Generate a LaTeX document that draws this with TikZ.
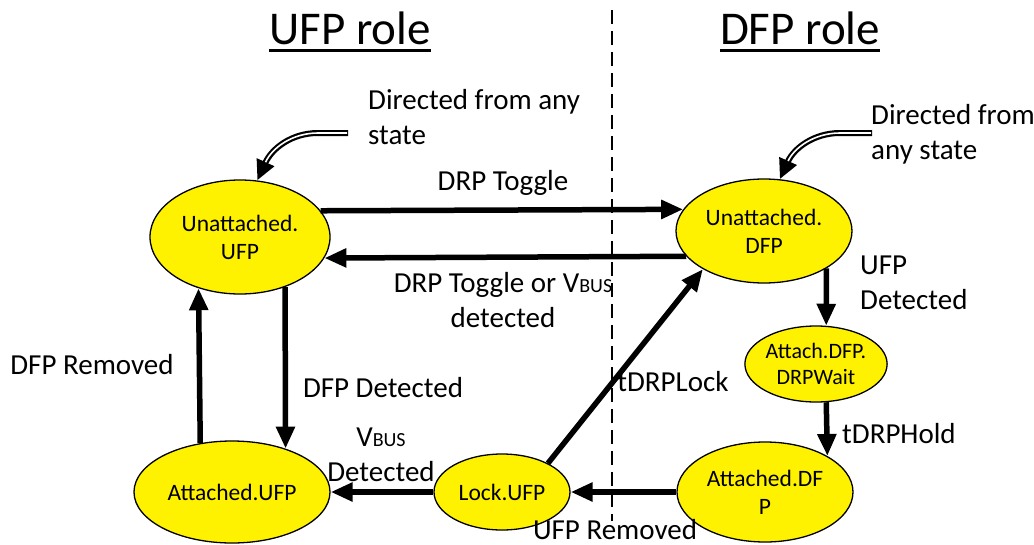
\documentclass[tikz,border=0pt]{standalone}
\usepackage{fontspec}
\setmainfont{Carlito}
\usetikzlibrary{shapes.geometric,arrows.meta}
\begin{document}
\begin{tikzpicture}[x=1pt,y=-1pt,
  st/.style={ellipse,draw=black,line width=1.3pt,fill=yellow,inner sep=0pt,align=center,
    font=\fontsize{23.5}{28}\selectfont},
  lbl/.style={inner sep=0pt,align=center,font=\fontsize{29}{35}\selectfont},
  lbll/.style={lbl,align=left,anchor=west},
  ttl/.style={inner sep=0pt,font=\fontsize{47}{52}\selectfont},
  arr/.style={line width=5.5pt,-{Triangle[length=22pt,width=18pt]}},
  dbl/.style={line width=6pt,-{Triangle[length=20pt,width=18pt]}},
  dblin/.style={white,line width=1.6pt,shorten >=20pt,shorten <=1pt}]
\useasboundingbox (0,0) rectangle (1034,544);
\newcommand{\vbus}{V{\fontsize{20}{20}\selectfont BUS}}
% titles
\node[ttl] (tu) at (350,28) {UFP role};
\node[ttl] (td) at (800,28) {DFP role};
\draw[line width=3pt] ([yshift=-6pt]tu.base west) -- ([yshift=-6pt]tu.base east);
\draw[line width=3pt] ([yshift=-6pt]td.base west) -- ([yshift=-6pt]td.base east);
% states
\node[st,minimum width=180pt,minimum height=114pt] (uu) at (240,237) {Unattached.\\UFP};
\node[st,minimum width=176pt,minimum height=104pt] (ud) at (764,231) {Unattached.\\DFP};
\node[st,minimum width=112pt,minimum height=76pt,font=\fontsize{22}{26}\selectfont] (aw) at (816,364) {Attach.DFP.\\DRPWait};
\node[st,minimum width=176pt,minimum height=100pt] (ad) at (765,492) {Attached.DF\\P};
\node[st,minimum width=136pt,minimum height=76pt] (lu) at (502,492) {Lock.UFP};
\node[st,minimum width=196pt,minimum height=102pt] (au) at (232,492) {Attached.UFP};
% transitions
\draw[arr] (uu.18.8) -- (ud.165.4);
\draw[arr] (ud.198.8) -- (uu.346.7);
\draw[arr] (uu.312.3) -- (au.39);
\draw[arr] (au.123.6) -- (uu.231.9);
\draw[arr] (ud.329.2) -- (aw.75);
\draw[arr] (aw.285) -- (ad.30.5);
\draw[arr] (ad.west) -- (lu.east);
\draw[arr] (lu.west) -- (au.east);
\draw[arr] (lu.32.9) -- (ud.212.6);
% divider
\coordinate (dtop) at (612,10);
\coordinate (dbot) at (612,521);
\draw[line width=1.5pt,dash pattern=on 14pt off 7pt] (dtop) -- (dbot);
% "directed from any state" arrows
\coordinate (s1) at (348,133);
\coordinate (s2) at (872,133);
\draw[dbl] (s1) -- (318,133) .. controls (292,133) and (272,148) .. (uu.73);
\draw[dblin] (s1) -- (318,133) .. controls (292,133) and (272,148) .. (uu.73);
\draw[dbl] (s2) -- (840,133) .. controls (814,133) and (794,148) .. (ud.73);
\draw[dblin] (s2) -- (840,133) .. controls (814,133) and (794,148) .. (ud.73);
% labels
\node[lbll] (n1) at (368,117) {Directed from any\\state};
\node[lbll] (n2) at (871,134) {Directed from\\any state};
\node[lbl] (l1) at (503,183) {DRP Toggle};
\node[lbl] (l2) at (503,300) {DRP Toggle or \vbus\\detected};
\node[lbl] (l3) at (383,388) {DFP Detected};
\node[lbl] (l4) at (92,365) {DFP Removed};
\node[lbll] (l5) at (860,283) {UFP\\Detected};
\node[lbll] (l6) at (842,434) {tDRPHold};
\node[lbl] (l7) at (673,382) {tDRPLock};
\node[lbl] (l8) at (615,530) {UFP Removed};
\node[lbl] (l9) at (381,455) {\vbus\\Detected};
\end{tikzpicture}
\end{document}
